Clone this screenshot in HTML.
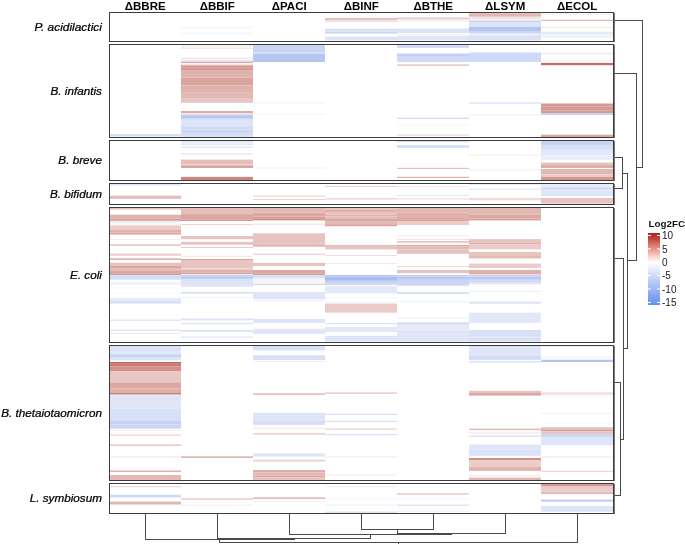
<!DOCTYPE html><html><head><meta charset="utf-8"><style>html,body{margin:0;padding:0;background:#fff;}svg{display:block;} svg{will-change:transform;}</style></head><body><svg width="685" height="544" viewBox="0 0 685 544" shape-rendering="crispEdges">
<rect width="685" height="544" fill="#fff"/>
<rect x="110" y="134.00" width="71" height="2.50" fill="#d7e0f6" shape-rendering="auto"/>
<rect x="110" y="184.00" width="71" height="1.60" fill="#dee5f7" shape-rendering="auto"/>
<rect x="110" y="195.70" width="71" height="3.20" fill="#e5bcb7" shape-rendering="auto"/>
<rect x="110" y="208.00" width="71" height="1.60" fill="#e8c4c0" shape-rendering="auto"/>
<rect x="110" y="214.70" width="71" height="4.10" fill="#e0b4ae" shape-rendering="auto"/>
<rect x="110" y="218.80" width="71" height="2.00" fill="#d8a09a" shape-rendering="auto"/>
<rect x="110" y="220.80" width="71" height="1.10" fill="#f0dcd8" shape-rendering="auto"/>
<rect x="110" y="221.90" width="71" height="3.50" fill="#f5f7fd" shape-rendering="auto"/>
<rect x="110" y="225.40" width="71" height="4.60" fill="#ecccc8" shape-rendering="auto"/>
<rect x="110" y="230.00" width="71" height="2.50" fill="#e0b2ac" shape-rendering="auto"/>
<rect x="110" y="232.50" width="71" height="2.10" fill="#dca8a2" shape-rendering="auto"/>
<rect x="110" y="238.70" width="71" height="1.00" fill="#f6e8e6" shape-rendering="auto"/>
<rect x="110" y="244.30" width="71" height="1.60" fill="#e8c4c0" shape-rendering="auto"/>
<rect x="110" y="253.60" width="71" height="2.10" fill="#ecccc8" shape-rendering="auto"/>
<rect x="110" y="258.20" width="71" height="1.80" fill="#e4b8b2" shape-rendering="auto"/>
<rect x="110" y="262.80" width="71" height="2.60" fill="#e8c4c0" shape-rendering="auto"/>
<rect x="110" y="265.40" width="71" height="2.60" fill="#dca8a2" shape-rendering="auto"/>
<rect x="110" y="268.00" width="71" height="3.00" fill="#e4bcb8" shape-rendering="auto"/>
<rect x="110" y="271.00" width="71" height="2.50" fill="#dca6a0" shape-rendering="auto"/>
<rect x="110" y="273.50" width="71" height="1.30" fill="#cc7c74" shape-rendering="auto"/>
<rect x="110" y="274.80" width="71" height="4.90" fill="#d4ddf6" shape-rendering="auto"/>
<rect x="110" y="281.70" width="71" height="3.10" fill="#f0f3fc" shape-rendering="auto"/>
<rect x="110" y="292.80" width="71" height="1.00" fill="#f6f7fd" shape-rendering="auto"/>
<rect x="110" y="297.80" width="71" height="2.60" fill="#e4eaf8" shape-rendering="auto"/>
<rect x="110" y="300.40" width="71" height="3.20" fill="#d8e0f6" shape-rendering="auto"/>
<rect x="110" y="319.60" width="71" height="1.20" fill="#d8e0f6" shape-rendering="auto"/>
<rect x="110" y="329.80" width="71" height="1.20" fill="#d8e0f6" shape-rendering="auto"/>
<rect x="110" y="332.80" width="71" height="0.90" fill="#f4e0de" shape-rendering="auto"/>
<rect x="110" y="346.00" width="71" height="5.00" fill="#dce3f8" shape-rendering="auto"/>
<rect x="110" y="351.00" width="71" height="3.30" fill="#e2e8f8" shape-rendering="auto"/>
<rect x="110" y="354.30" width="71" height="3.30" fill="#c8d4f4" shape-rendering="auto"/>
<rect x="110" y="357.60" width="71" height="2.80" fill="#dce4f8" shape-rendering="auto"/>
<rect x="110" y="362.00" width="71" height="1.70" fill="#c0605a" shape-rendering="auto"/>
<rect x="110" y="363.70" width="71" height="2.80" fill="#cc7a72" shape-rendering="auto"/>
<rect x="110" y="366.50" width="71" height="4.90" fill="#d49088" shape-rendering="auto"/>
<rect x="110" y="371.40" width="71" height="11.00" fill="#e8c8c4" shape-rendering="auto"/>
<rect x="110" y="382.40" width="71" height="6.10" fill="#dca8a2" shape-rendering="auto"/>
<rect x="110" y="388.50" width="71" height="4.50" fill="#e0b0aa" shape-rendering="auto"/>
<rect x="110" y="393.00" width="71" height="1.60" fill="#cc7c74" shape-rendering="auto"/>
<rect x="110" y="394.60" width="71" height="13.70" fill="#e0e6f8" shape-rendering="auto"/>
<rect x="110" y="408.30" width="71" height="12.20" fill="#d8e0f6" shape-rendering="auto"/>
<rect x="110" y="420.50" width="71" height="4.10" fill="#c4d0f4" shape-rendering="auto"/>
<rect x="110" y="424.60" width="71" height="4.10" fill="#ccd6f4" shape-rendering="auto"/>
<rect x="110" y="430.00" width="71" height="1.00" fill="#f7ebea" shape-rendering="auto"/>
<rect x="110" y="434.50" width="71" height="1.20" fill="#efd0cd" shape-rendering="auto"/>
<rect x="110" y="444.50" width="71" height="1.20" fill="#e5b5ae" shape-rendering="auto"/>
<rect x="110" y="456.50" width="71" height="1.00" fill="#f6e5e3" shape-rendering="auto"/>
<rect x="110" y="470.50" width="71" height="1.30" fill="#dea49d" shape-rendering="auto"/>
<rect x="110" y="475.00" width="71" height="5.00" fill="#e5b8b3" shape-rendering="auto"/>
<rect x="110" y="486.00" width="71" height="1.30" fill="#f2dad7" shape-rendering="auto"/>
<rect x="110" y="494.70" width="71" height="2.70" fill="#cdd7f6" shape-rendering="auto"/>
<rect x="110" y="501.60" width="71" height="2.90" fill="#e1b5b0" shape-rendering="auto"/>
<rect x="181" y="26.70" width="72" height="1.60" fill="#f4f5fc" shape-rendering="auto"/>
<rect x="181" y="32.50" width="72" height="2.10" fill="#f4f5fc" shape-rendering="auto"/>
<rect x="181" y="45.40" width="72" height="1.20" fill="#f7eae8" shape-rendering="auto"/>
<rect x="181" y="47.50" width="72" height="1.50" fill="#f6e5e3" shape-rendering="auto"/>
<rect x="181" y="57.60" width="72" height="1.40" fill="#f6e6e4" shape-rendering="auto"/>
<rect x="181" y="59.70" width="72" height="2.10" fill="#e0e8fa" shape-rendering="auto"/>
<rect x="181" y="61.80" width="72" height="1.30" fill="#d8a8a4" shape-rendering="auto"/>
<rect x="181" y="64.40" width="72" height="1.10" fill="#f0d8d4" shape-rendering="auto"/>
<rect x="181" y="65.50" width="72" height="2.00" fill="#d48c86" shape-rendering="auto"/>
<rect x="181" y="67.50" width="72" height="3.20" fill="#d8988f" shape-rendering="auto"/>
<rect x="181" y="70.70" width="72" height="6.80" fill="#dfb2ac" shape-rendering="auto"/>
<rect x="181" y="77.50" width="72" height="7.90" fill="#d9a49e" shape-rendering="auto"/>
<rect x="181" y="85.40" width="72" height="7.40" fill="#e0b4ae" shape-rendering="auto"/>
<rect x="181" y="92.80" width="72" height="5.20" fill="#e2b9b4" shape-rendering="auto"/>
<rect x="181" y="98.00" width="72" height="4.80" fill="#e8c6c2" shape-rendering="auto"/>
<rect x="181" y="111.00" width="72" height="2.10" fill="#e0aca6" shape-rendering="auto"/>
<rect x="181" y="113.10" width="72" height="1.60" fill="#f0e4e6" shape-rendering="auto"/>
<rect x="181" y="114.70" width="72" height="1.30" fill="#c0cef4" shape-rendering="auto"/>
<rect x="181" y="116.00" width="72" height="2.00" fill="#b4c6f2" shape-rendering="auto"/>
<rect x="181" y="118.00" width="72" height="0.90" fill="#c4d0f4" shape-rendering="auto"/>
<rect x="181" y="118.90" width="72" height="7.40" fill="#dde4f8" shape-rendering="auto"/>
<rect x="181" y="126.30" width="72" height="2.70" fill="#d0daf6" shape-rendering="auto"/>
<rect x="181" y="129.00" width="72" height="1.00" fill="#dae2f8" shape-rendering="auto"/>
<rect x="181" y="130.00" width="72" height="3.00" fill="#ccd7f6" shape-rendering="auto"/>
<rect x="181" y="133.00" width="72" height="1.00" fill="#d8e0f6" shape-rendering="auto"/>
<rect x="181" y="134.00" width="72" height="1.80" fill="#d0daf6" shape-rendering="auto"/>
<rect x="181" y="135.80" width="72" height="1.20" fill="#dce4f8" shape-rendering="auto"/>
<rect x="181" y="141.00" width="72" height="1.20" fill="#dce4f8" shape-rendering="auto"/>
<rect x="181" y="142.20" width="72" height="1.60" fill="#eef1fb" shape-rendering="auto"/>
<rect x="181" y="143.80" width="72" height="1.00" fill="#dce4f8" shape-rendering="auto"/>
<rect x="181" y="146.40" width="72" height="1.60" fill="#e4eaf8" shape-rendering="auto"/>
<rect x="181" y="153.20" width="72" height="1.60" fill="#e4eaf8" shape-rendering="auto"/>
<rect x="181" y="159.60" width="72" height="4.70" fill="#e6beb8" shape-rendering="auto"/>
<rect x="181" y="164.30" width="72" height="1.00" fill="#ecccc8" shape-rendering="auto"/>
<rect x="181" y="165.30" width="72" height="2.70" fill="#dca49e" shape-rendering="auto"/>
<rect x="181" y="176.90" width="72" height="3.10" fill="#cc847c" shape-rendering="auto"/>
<rect x="181" y="208.00" width="72" height="4.90" fill="#e6bfba" shape-rendering="auto"/>
<rect x="181" y="212.90" width="72" height="2.10" fill="#e4b8b2" shape-rendering="auto"/>
<rect x="181" y="215.00" width="72" height="4.70" fill="#dca6a0" shape-rendering="auto"/>
<rect x="181" y="219.70" width="72" height="1.30" fill="#d8968e" shape-rendering="auto"/>
<rect x="181" y="224.00" width="72" height="1.00" fill="#f0d4d0" shape-rendering="auto"/>
<rect x="181" y="236.00" width="72" height="3.20" fill="#e8c4c0" shape-rendering="auto"/>
<rect x="181" y="241.80" width="72" height="2.90" fill="#e8c4c0" shape-rendering="auto"/>
<rect x="181" y="247.00" width="72" height="1.00" fill="#ecccc8" shape-rendering="auto"/>
<rect x="181" y="255.80" width="72" height="1.00" fill="#f4e4e2" shape-rendering="auto"/>
<rect x="181" y="259.00" width="72" height="1.00" fill="#d8a09a" shape-rendering="auto"/>
<rect x="181" y="260.00" width="72" height="8.40" fill="#e8c4c0" shape-rendering="auto"/>
<rect x="181" y="268.40" width="72" height="1.60" fill="#eccfcb" shape-rendering="auto"/>
<rect x="181" y="270.00" width="72" height="2.50" fill="#e0b0aa" shape-rendering="auto"/>
<rect x="181" y="272.50" width="72" height="1.50" fill="#d8a09a" shape-rendering="auto"/>
<rect x="181" y="274.70" width="72" height="1.80" fill="#c4d0f4" shape-rendering="auto"/>
<rect x="181" y="276.50" width="72" height="1.50" fill="#b8c8f2" shape-rendering="auto"/>
<rect x="181" y="278.00" width="72" height="1.00" fill="#c4d0f4" shape-rendering="auto"/>
<rect x="181" y="279.00" width="72" height="4.60" fill="#dce4f8" shape-rendering="auto"/>
<rect x="181" y="283.60" width="72" height="1.10" fill="#ccd6f4" shape-rendering="auto"/>
<rect x="181" y="284.70" width="72" height="2.10" fill="#e0e6f8" shape-rendering="auto"/>
<rect x="181" y="292.00" width="72" height="1.60" fill="#d8e0f6" shape-rendering="auto"/>
<rect x="181" y="297.00" width="72" height="1.00" fill="#f1f3fc" shape-rendering="auto"/>
<rect x="181" y="318.40" width="72" height="1.90" fill="#dfe5f8" shape-rendering="auto"/>
<rect x="181" y="322.90" width="72" height="1.30" fill="#dfe5f8" shape-rendering="auto"/>
<rect x="181" y="330.00" width="72" height="2.00" fill="#dfe5f8" shape-rendering="auto"/>
<rect x="181" y="336.40" width="72" height="1.30" fill="#dfe5f8" shape-rendering="auto"/>
<rect x="181" y="346.50" width="72" height="1.00" fill="#f1f3fc" shape-rendering="auto"/>
<rect x="181" y="456.50" width="72" height="1.20" fill="#d89890" shape-rendering="auto"/>
<rect x="181" y="498.20" width="72" height="1.80" fill="#efd4d0" shape-rendering="auto"/>
<rect x="181" y="504.50" width="72" height="1.50" fill="#f1f3fc" shape-rendering="auto"/>
<rect x="253" y="45.00" width="72" height="7.50" fill="#c8d4f4" shape-rendering="auto"/>
<rect x="253" y="52.50" width="72" height="1.10" fill="#d4dcf6" shape-rendering="auto"/>
<rect x="253" y="53.60" width="72" height="8.40" fill="#b6c6f0" shape-rendering="auto"/>
<rect x="253" y="102.50" width="72" height="1.00" fill="#f1f3fc" shape-rendering="auto"/>
<rect x="253" y="113.50" width="72" height="1.00" fill="#f1f3fc" shape-rendering="auto"/>
<rect x="253" y="167.50" width="72" height="1.00" fill="#f9efed" shape-rendering="auto"/>
<rect x="253" y="195.50" width="72" height="1.20" fill="#efd2cf" shape-rendering="auto"/>
<rect x="253" y="199.00" width="72" height="1.00" fill="#efd2cf" shape-rendering="auto"/>
<rect x="253" y="208.00" width="72" height="4.70" fill="#e4bab4" shape-rendering="auto"/>
<rect x="253" y="212.70" width="72" height="3.90" fill="#dca8a2" shape-rendering="auto"/>
<rect x="253" y="216.60" width="72" height="2.40" fill="#d8a09a" shape-rendering="auto"/>
<rect x="253" y="219.00" width="72" height="1.40" fill="#d4948c" shape-rendering="auto"/>
<rect x="253" y="223.70" width="72" height="0.80" fill="#f0d4d0" shape-rendering="auto"/>
<rect x="253" y="233.30" width="72" height="10.30" fill="#e8c4c0" shape-rendering="auto"/>
<rect x="253" y="243.60" width="72" height="3.20" fill="#e4bab4" shape-rendering="auto"/>
<rect x="253" y="253.60" width="72" height="1.40" fill="#f0d4d0" shape-rendering="auto"/>
<rect x="253" y="262.90" width="72" height="3.20" fill="#e8c4c0" shape-rendering="auto"/>
<rect x="253" y="270.00" width="72" height="3.50" fill="#dca8a2" shape-rendering="auto"/>
<rect x="253" y="273.50" width="72" height="1.30" fill="#d08880" shape-rendering="auto"/>
<rect x="253" y="275.00" width="72" height="3.50" fill="#d8e0f6" shape-rendering="auto"/>
<rect x="253" y="278.50" width="72" height="5.20" fill="#f7f5fb" shape-rendering="auto"/>
<rect x="253" y="283.70" width="72" height="1.30" fill="#d0daf6" shape-rendering="auto"/>
<rect x="253" y="292.00" width="72" height="7.00" fill="#dfe5f8" shape-rendering="auto"/>
<rect x="253" y="299.00" width="72" height="3.00" fill="#f4f6fd" shape-rendering="auto"/>
<rect x="253" y="319.00" width="72" height="4.00" fill="#dfe5f8" shape-rendering="auto"/>
<rect x="253" y="328.70" width="72" height="0.90" fill="#f4e0de" shape-rendering="auto"/>
<rect x="253" y="329.60" width="72" height="4.20" fill="#dfe5f8" shape-rendering="auto"/>
<rect x="253" y="346.00" width="72" height="4.40" fill="#dae1f7" shape-rendering="auto"/>
<rect x="253" y="355.20" width="72" height="4.80" fill="#d7e0f7" shape-rendering="auto"/>
<rect x="253" y="361.00" width="72" height="1.00" fill="#f7ebea" shape-rendering="auto"/>
<rect x="253" y="393.50" width="72" height="1.20" fill="#dea49d" shape-rendering="auto"/>
<rect x="253" y="412.80" width="72" height="8.30" fill="#dfe5f8" shape-rendering="auto"/>
<rect x="253" y="421.10" width="72" height="3.80" fill="#d4dcf6" shape-rendering="auto"/>
<rect x="253" y="427.10" width="72" height="2.30" fill="#faf2f0" shape-rendering="auto"/>
<rect x="253" y="432.90" width="72" height="1.80" fill="#f0d4d0" shape-rendering="auto"/>
<rect x="253" y="453.50" width="72" height="3.00" fill="#dce4f8" shape-rendering="auto"/>
<rect x="253" y="459.50" width="72" height="2.30" fill="#f0d8d4" shape-rendering="auto"/>
<rect x="253" y="470.10" width="72" height="2.30" fill="#dca8a2" shape-rendering="auto"/>
<rect x="253" y="472.40" width="72" height="3.00" fill="#e4bab4" shape-rendering="auto"/>
<rect x="253" y="475.40" width="72" height="2.20" fill="#dcaaa4" shape-rendering="auto"/>
<rect x="253" y="477.60" width="72" height="2.40" fill="#e8c4c0" shape-rendering="auto"/>
<rect x="253" y="497.40" width="72" height="1.60" fill="#e5b8b3" shape-rendering="auto"/>
<rect x="253" y="501.00" width="72" height="1.00" fill="#f1f3fc" shape-rendering="auto"/>
<rect x="325" y="17.90" width="72" height="2.50" fill="#e8c0ba" shape-rendering="auto"/>
<rect x="325" y="20.90" width="72" height="1.30" fill="#dce4f8" shape-rendering="auto"/>
<rect x="325" y="28.80" width="72" height="1.70" fill="#d0daf6" shape-rendering="auto"/>
<rect x="325" y="30.50" width="72" height="1.00" fill="#dce4f8" shape-rendering="auto"/>
<rect x="325" y="31.50" width="72" height="2.10" fill="#ccd6f4" shape-rendering="auto"/>
<rect x="325" y="36.70" width="72" height="3.70" fill="#dde4f8" shape-rendering="auto"/>
<rect x="325" y="185.80" width="72" height="1.20" fill="#efd2cf" shape-rendering="auto"/>
<rect x="325" y="198.20" width="72" height="1.30" fill="#efd2cf" shape-rendering="auto"/>
<rect x="325" y="208.00" width="72" height="2.00" fill="#e8c4c0" shape-rendering="auto"/>
<rect x="325" y="210.00" width="72" height="2.00" fill="#e0b0aa" shape-rendering="auto"/>
<rect x="325" y="212.00" width="72" height="2.50" fill="#e8c4c0" shape-rendering="auto"/>
<rect x="325" y="214.50" width="72" height="2.00" fill="#e0b0aa" shape-rendering="auto"/>
<rect x="325" y="216.50" width="72" height="2.50" fill="#e6bcb6" shape-rendering="auto"/>
<rect x="325" y="219.00" width="72" height="2.10" fill="#dcaaa4" shape-rendering="auto"/>
<rect x="325" y="221.10" width="72" height="3.20" fill="#e4bab4" shape-rendering="auto"/>
<rect x="325" y="224.30" width="72" height="1.90" fill="#d8a09a" shape-rendering="auto"/>
<rect x="325" y="244.90" width="72" height="4.50" fill="#e8c4c0" shape-rendering="auto"/>
<rect x="325" y="255.00" width="72" height="0.80" fill="#f0d4d0" shape-rendering="auto"/>
<rect x="325" y="263.00" width="72" height="1.00" fill="#f6e6e4" shape-rendering="auto"/>
<rect x="325" y="275.00" width="72" height="1.50" fill="#b8c8f2" shape-rendering="auto"/>
<rect x="325" y="276.50" width="72" height="3.50" fill="#a8bcee" shape-rendering="auto"/>
<rect x="325" y="280.00" width="72" height="1.00" fill="#b8c8f2" shape-rendering="auto"/>
<rect x="325" y="281.00" width="72" height="2.00" fill="#c4d0f4" shape-rendering="auto"/>
<rect x="325" y="283.00" width="72" height="2.00" fill="#d0daf6" shape-rendering="auto"/>
<rect x="325" y="286.20" width="72" height="7.10" fill="#e2e8f8" shape-rendering="auto"/>
<rect x="325" y="297.30" width="72" height="1.00" fill="#f0f3fc" shape-rendering="auto"/>
<rect x="325" y="301.70" width="72" height="1.90" fill="#f4f6fd" shape-rendering="auto"/>
<rect x="325" y="303.60" width="72" height="9.00" fill="#ecccc8" shape-rendering="auto"/>
<rect x="325" y="323.00" width="72" height="1.20" fill="#dce4f8" shape-rendering="auto"/>
<rect x="325" y="326.80" width="72" height="5.20" fill="#e2e8f8" shape-rendering="auto"/>
<rect x="325" y="335.80" width="72" height="5.80" fill="#dfe5f8" shape-rendering="auto"/>
<rect x="325" y="392.50" width="72" height="1.20" fill="#e8bcb7" shape-rendering="auto"/>
<rect x="325" y="413.80" width="72" height="1.20" fill="#dae1f7" shape-rendering="auto"/>
<rect x="325" y="420.80" width="72" height="1.20" fill="#dae1f7" shape-rendering="auto"/>
<rect x="325" y="428.50" width="72" height="1.20" fill="#efd0cd" shape-rendering="auto"/>
<rect x="325" y="434.00" width="72" height="1.20" fill="#d7e0f7" shape-rendering="auto"/>
<rect x="325" y="456.50" width="72" height="1.00" fill="#f7e8e6" shape-rendering="auto"/>
<rect x="325" y="474.50" width="72" height="1.00" fill="#f7e8e6" shape-rendering="auto"/>
<rect x="325" y="486.00" width="72" height="1.00" fill="#f7ebea" shape-rendering="auto"/>
<rect x="325" y="498.50" width="72" height="1.00" fill="#f1f3fc" shape-rendering="auto"/>
<rect x="325" y="504.50" width="72" height="1.00" fill="#f1f3fc" shape-rendering="auto"/>
<rect x="325" y="511.50" width="72" height="1.50" fill="#dee5f7" shape-rendering="auto"/>
<rect x="397" y="17.40" width="72" height="2.10" fill="#edcdc8" shape-rendering="auto"/>
<rect x="397" y="20.50" width="72" height="1.00" fill="#e8ecf9" shape-rendering="auto"/>
<rect x="397" y="28.50" width="72" height="4.50" fill="#dce3f6" shape-rendering="auto"/>
<rect x="397" y="34.00" width="72" height="1.50" fill="#f1f3fc" shape-rendering="auto"/>
<rect x="397" y="36.00" width="72" height="4.50" fill="#e1e6f7" shape-rendering="auto"/>
<rect x="397" y="45.00" width="72" height="3.00" fill="#d0daf6" shape-rendering="auto"/>
<rect x="397" y="53.60" width="72" height="2.40" fill="#c3d0f4" shape-rendering="auto"/>
<rect x="397" y="56.00" width="72" height="6.00" fill="#d0daf6" shape-rendering="auto"/>
<rect x="397" y="64.50" width="72" height="1.20" fill="#e5b5ae" shape-rendering="auto"/>
<rect x="397" y="117.70" width="72" height="1.30" fill="#d0daf6" shape-rendering="auto"/>
<rect x="397" y="124.50" width="72" height="1.00" fill="#f1f3fc" shape-rendering="auto"/>
<rect x="397" y="134.50" width="72" height="1.20" fill="#f2d7d4" shape-rendering="auto"/>
<rect x="397" y="141.00" width="72" height="1.20" fill="#d7e0f6" shape-rendering="auto"/>
<rect x="397" y="145.00" width="72" height="3.00" fill="#d7e0f6" shape-rendering="auto"/>
<rect x="397" y="167.80" width="72" height="1.20" fill="#e8bfba" shape-rendering="auto"/>
<rect x="397" y="176.80" width="72" height="1.20" fill="#e1b2ad" shape-rendering="auto"/>
<rect x="397" y="186.00" width="72" height="1.00" fill="#f7ebea" shape-rendering="auto"/>
<rect x="397" y="194.80" width="72" height="1.20" fill="#e1e8f9" shape-rendering="auto"/>
<rect x="397" y="198.50" width="72" height="1.00" fill="#f2dad7" shape-rendering="auto"/>
<rect x="397" y="208.00" width="72" height="4.70" fill="#e4b8b2" shape-rendering="auto"/>
<rect x="397" y="212.70" width="72" height="4.50" fill="#e0b0aa" shape-rendering="auto"/>
<rect x="397" y="217.20" width="72" height="2.60" fill="#dca69f" shape-rendering="auto"/>
<rect x="397" y="219.80" width="72" height="1.30" fill="#d8a09a" shape-rendering="auto"/>
<rect x="397" y="221.10" width="72" height="3.90" fill="#ecccc8" shape-rendering="auto"/>
<rect x="397" y="235.00" width="72" height="0.80" fill="#f8eeec" shape-rendering="auto"/>
<rect x="397" y="239.10" width="72" height="0.90" fill="#f4e0de" shape-rendering="auto"/>
<rect x="397" y="241.00" width="72" height="2.00" fill="#ecccc8" shape-rendering="auto"/>
<rect x="397" y="244.90" width="72" height="1.30" fill="#dcaaa4" shape-rendering="auto"/>
<rect x="397" y="246.20" width="72" height="3.20" fill="#e4bab4" shape-rendering="auto"/>
<rect x="397" y="249.40" width="72" height="4.50" fill="#e8c4c0" shape-rendering="auto"/>
<rect x="397" y="266.10" width="72" height="0.90" fill="#f0d4d0" shape-rendering="auto"/>
<rect x="397" y="270.00" width="72" height="3.20" fill="#e8c4c0" shape-rendering="auto"/>
<rect x="397" y="275.00" width="72" height="1.50" fill="#c4d0f4" shape-rendering="auto"/>
<rect x="397" y="276.50" width="72" height="3.30" fill="#b8c8f2" shape-rendering="auto"/>
<rect x="397" y="279.80" width="72" height="5.20" fill="#ccd6f4" shape-rendering="auto"/>
<rect x="397" y="285.00" width="72" height="1.20" fill="#dce4f8" shape-rendering="auto"/>
<rect x="397" y="292.00" width="72" height="2.00" fill="#d8e0f6" shape-rendering="auto"/>
<rect x="397" y="301.20" width="72" height="1.00" fill="#eef1fb" shape-rendering="auto"/>
<rect x="397" y="317.80" width="72" height="1.20" fill="#f0f3fc" shape-rendering="auto"/>
<rect x="397" y="322.30" width="72" height="2.50" fill="#d4dcf6" shape-rendering="auto"/>
<rect x="397" y="324.80" width="72" height="5.80" fill="#e4e9f8" shape-rendering="auto"/>
<rect x="397" y="330.60" width="72" height="2.60" fill="#dce3f8" shape-rendering="auto"/>
<rect x="397" y="333.20" width="72" height="8.40" fill="#e0e6f8" shape-rendering="auto"/>
<rect x="397" y="493.20" width="72" height="1.50" fill="#ebc9c6" shape-rendering="auto"/>
<rect x="397" y="498.50" width="72" height="1.00" fill="#f1f3fc" shape-rendering="auto"/>
<rect x="397" y="504.50" width="72" height="1.50" fill="#dee5f7" shape-rendering="auto"/>
<rect x="397" y="511.00" width="72" height="1.00" fill="#f1f3fc" shape-rendering="auto"/>
<rect x="469" y="13.00" width="72" height="0.50" fill="#d8a09a" shape-rendering="auto"/>
<rect x="469" y="13.50" width="72" height="3.30" fill="#e4b8b2" shape-rendering="auto"/>
<rect x="469" y="16.80" width="72" height="2.70" fill="#f4e4e2" shape-rendering="auto"/>
<rect x="469" y="20.50" width="72" height="2.10" fill="#c8d4f4" shape-rendering="auto"/>
<rect x="469" y="22.60" width="72" height="4.20" fill="#dce4f8" shape-rendering="auto"/>
<rect x="469" y="26.80" width="72" height="4.80" fill="#b4c4f0" shape-rendering="auto"/>
<rect x="469" y="31.60" width="72" height="2.10" fill="#ccd6f4" shape-rendering="auto"/>
<rect x="469" y="33.70" width="72" height="1.50" fill="#f0f3fc" shape-rendering="auto"/>
<rect x="469" y="35.20" width="72" height="5.30" fill="#dae2f8" shape-rendering="auto"/>
<rect x="469" y="52.50" width="72" height="9.50" fill="#cdd9f6" shape-rendering="auto"/>
<rect x="469" y="102.50" width="72" height="1.20" fill="#d7e0f6" shape-rendering="auto"/>
<rect x="469" y="114.50" width="72" height="1.00" fill="#f7ebea" shape-rendering="auto"/>
<rect x="469" y="154.50" width="72" height="1.00" fill="#f7ebea" shape-rendering="auto"/>
<rect x="469" y="169.50" width="72" height="1.00" fill="#f7ebea" shape-rendering="auto"/>
<rect x="469" y="184.00" width="72" height="1.00" fill="#e8ecf9" shape-rendering="auto"/>
<rect x="469" y="188.50" width="72" height="1.20" fill="#e1e8f9" shape-rendering="auto"/>
<rect x="469" y="197.80" width="72" height="2.50" fill="#f2dad7" shape-rendering="auto"/>
<rect x="469" y="208.00" width="72" height="6.70" fill="#e4b8b2" shape-rendering="auto"/>
<rect x="469" y="214.70" width="72" height="3.80" fill="#dca8a2" shape-rendering="auto"/>
<rect x="469" y="218.50" width="72" height="1.90" fill="#d8a09a" shape-rendering="auto"/>
<rect x="469" y="239.10" width="72" height="3.90" fill="#e8c4c0" shape-rendering="auto"/>
<rect x="469" y="243.00" width="72" height="1.30" fill="#e0b0aa" shape-rendering="auto"/>
<rect x="469" y="244.30" width="72" height="5.10" fill="#ecccc8" shape-rendering="auto"/>
<rect x="469" y="252.00" width="72" height="3.20" fill="#e8c4c0" shape-rendering="auto"/>
<rect x="469" y="255.20" width="72" height="3.20" fill="#e4bab4" shape-rendering="auto"/>
<rect x="469" y="263.60" width="72" height="4.40" fill="#ecccc8" shape-rendering="auto"/>
<rect x="469" y="270.00" width="72" height="4.00" fill="#e0b0aa" shape-rendering="auto"/>
<rect x="469" y="274.00" width="72" height="0.80" fill="#f0d0c8" shape-rendering="auto"/>
<rect x="469" y="275.00" width="72" height="1.50" fill="#c8d4f4" shape-rendering="auto"/>
<rect x="469" y="276.50" width="72" height="3.30" fill="#bccaf2" shape-rendering="auto"/>
<rect x="469" y="279.80" width="72" height="1.20" fill="#d4dcf6" shape-rendering="auto"/>
<rect x="469" y="281.00" width="72" height="1.60" fill="#ccd6f4" shape-rendering="auto"/>
<rect x="469" y="282.60" width="72" height="1.70" fill="#dce4f8" shape-rendering="auto"/>
<rect x="469" y="290.70" width="72" height="1.10" fill="#eef1fb" shape-rendering="auto"/>
<rect x="469" y="301.70" width="72" height="1.90" fill="#d8e0f6" shape-rendering="auto"/>
<rect x="469" y="312.60" width="72" height="10.30" fill="#e2e8f8" shape-rendering="auto"/>
<rect x="469" y="330.00" width="72" height="6.00" fill="#d8e0f6" shape-rendering="auto"/>
<rect x="469" y="336.00" width="72" height="2.00" fill="#e0e6f8" shape-rendering="auto"/>
<rect x="469" y="338.00" width="72" height="3.60" fill="#d8e0f6" shape-rendering="auto"/>
<rect x="469" y="346.00" width="72" height="1.20" fill="#d4dcf6" shape-rendering="auto"/>
<rect x="469" y="347.20" width="72" height="7.40" fill="#e0e6f8" shape-rendering="auto"/>
<rect x="469" y="354.60" width="72" height="1.50" fill="#d8e0f6" shape-rendering="auto"/>
<rect x="469" y="356.10" width="72" height="3.70" fill="#d0daf6" shape-rendering="auto"/>
<rect x="469" y="360.90" width="72" height="1.60" fill="#dce4f8" shape-rendering="auto"/>
<rect x="469" y="390.80" width="72" height="1.60" fill="#e8c4c0" shape-rendering="auto"/>
<rect x="469" y="392.40" width="72" height="3.20" fill="#dca8a2" shape-rendering="auto"/>
<rect x="469" y="428.60" width="72" height="1.50" fill="#e4b8b2" shape-rendering="auto"/>
<rect x="469" y="432.40" width="72" height="1.10" fill="#f6e6e4" shape-rendering="auto"/>
<rect x="469" y="435.40" width="72" height="1.50" fill="#dce4f8" shape-rendering="auto"/>
<rect x="469" y="444.50" width="72" height="5.20" fill="#e0e6f8" shape-rendering="auto"/>
<rect x="469" y="449.70" width="72" height="6.10" fill="#dae1f8" shape-rendering="auto"/>
<rect x="469" y="458.00" width="72" height="2.30" fill="#d49088" shape-rendering="auto"/>
<rect x="469" y="460.30" width="72" height="6.80" fill="#ecccc8" shape-rendering="auto"/>
<rect x="469" y="467.10" width="72" height="3.70" fill="#e0b0aa" shape-rendering="auto"/>
<rect x="469" y="475.20" width="72" height="1.00" fill="#f6e6e4" shape-rendering="auto"/>
<rect x="469" y="477.60" width="72" height="2.40" fill="#e4b8b2" shape-rendering="auto"/>
<rect x="541" y="13.70" width="72" height="1.00" fill="#f7ebea" shape-rendering="auto"/>
<rect x="541" y="19.80" width="72" height="1.20" fill="#e5b5ae" shape-rendering="auto"/>
<rect x="541" y="27.00" width="72" height="1.00" fill="#f7ebea" shape-rendering="auto"/>
<rect x="541" y="31.70" width="72" height="2.80" fill="#e5eaf9" shape-rendering="auto"/>
<rect x="541" y="35.00" width="72" height="3.00" fill="#f1f3fc" shape-rendering="auto"/>
<rect x="541" y="52.70" width="72" height="1.80" fill="#f7ebea" shape-rendering="auto"/>
<rect x="541" y="59.50" width="72" height="1.00" fill="#f1f3fc" shape-rendering="auto"/>
<rect x="541" y="62.90" width="72" height="2.30" fill="#c96c65" shape-rendering="auto"/>
<rect x="541" y="103.50" width="72" height="2.50" fill="#d79a93" shape-rendering="auto"/>
<rect x="541" y="106.00" width="72" height="1.00" fill="#e1aea7" shape-rendering="auto"/>
<rect x="541" y="107.00" width="72" height="3.00" fill="#d79a93" shape-rendering="auto"/>
<rect x="541" y="110.00" width="72" height="1.00" fill="#e1aea7" shape-rendering="auto"/>
<rect x="541" y="111.00" width="72" height="2.30" fill="#d79a93" shape-rendering="auto"/>
<rect x="541" y="113.30" width="72" height="1.70" fill="#c3d0f2" shape-rendering="auto"/>
<rect x="541" y="134.70" width="72" height="2.30" fill="#d7a7a1" shape-rendering="auto"/>
<rect x="541" y="141.00" width="72" height="3.90" fill="#c6d2f4" shape-rendering="auto"/>
<rect x="541" y="144.90" width="72" height="3.30" fill="#d7e0f7" shape-rendering="auto"/>
<rect x="541" y="148.20" width="72" height="1.20" fill="#cdd7f6" shape-rendering="auto"/>
<rect x="541" y="149.40" width="72" height="1.20" fill="#d7e0f7" shape-rendering="auto"/>
<rect x="541" y="150.60" width="72" height="4.40" fill="#e1e8f9" shape-rendering="auto"/>
<rect x="541" y="155.00" width="72" height="5.00" fill="#ebeffb" shape-rendering="auto"/>
<rect x="541" y="162.50" width="72" height="2.50" fill="#e8c3be" shape-rendering="auto"/>
<rect x="541" y="165.00" width="72" height="3.00" fill="#deaea9" shape-rendering="auto"/>
<rect x="541" y="169.00" width="72" height="5.40" fill="#e1b7b2" shape-rendering="auto"/>
<rect x="541" y="174.40" width="72" height="2.60" fill="#ebc9c6" shape-rendering="auto"/>
<rect x="541" y="177.00" width="72" height="3.00" fill="#d49690" shape-rendering="auto"/>
<rect x="541" y="184.00" width="72" height="3.30" fill="#e8edf9" shape-rendering="auto"/>
<rect x="541" y="187.30" width="72" height="2.30" fill="#cdd7f6" shape-rendering="auto"/>
<rect x="541" y="189.60" width="72" height="0.80" fill="#dae1f7" shape-rendering="auto"/>
<rect x="541" y="190.40" width="72" height="5.60" fill="#dee5f7" shape-rendering="auto"/>
<rect x="541" y="198.00" width="72" height="5.60" fill="#e8c3bf" shape-rendering="auto"/>
<rect x="541" y="346.00" width="72" height="0.60" fill="#f7ebea" shape-rendering="auto"/>
<rect x="541" y="356.50" width="72" height="1.30" fill="#f1f3fc" shape-rendering="auto"/>
<rect x="541" y="359.70" width="72" height="2.30" fill="#b5c6f1" shape-rendering="auto"/>
<rect x="541" y="392.50" width="72" height="2.00" fill="#f2d7d4" shape-rendering="auto"/>
<rect x="541" y="395.50" width="72" height="1.00" fill="#f1f3fc" shape-rendering="auto"/>
<rect x="541" y="412.80" width="72" height="1.10" fill="#f0f3fc" shape-rendering="auto"/>
<rect x="541" y="422.60" width="72" height="1.50" fill="#f8f9fe" shape-rendering="auto"/>
<rect x="541" y="427.10" width="72" height="2.30" fill="#e8c4c0" shape-rendering="auto"/>
<rect x="541" y="429.40" width="72" height="2.00" fill="#d8a09a" shape-rendering="auto"/>
<rect x="541" y="431.40" width="72" height="2.50" fill="#e8c4c0" shape-rendering="auto"/>
<rect x="541" y="433.90" width="72" height="3.00" fill="#ccd6f4" shape-rendering="auto"/>
<rect x="541" y="436.90" width="72" height="8.30" fill="#dfe5f8" shape-rendering="auto"/>
<rect x="541" y="456.50" width="72" height="1.10" fill="#f6e6e4" shape-rendering="auto"/>
<rect x="541" y="470.80" width="72" height="1.20" fill="#f0d4d0" shape-rendering="auto"/>
<rect x="541" y="484.00" width="72" height="2.60" fill="#d79a93" shape-rendering="auto"/>
<rect x="541" y="486.60" width="72" height="5.10" fill="#ebcdc9" shape-rendering="auto"/>
<rect x="541" y="491.70" width="72" height="2.50" fill="#e5bcb7" shape-rendering="auto"/>
<rect x="541" y="499.60" width="72" height="2.10" fill="#bfcdf2" shape-rendering="auto"/>
<rect x="541" y="505.90" width="72" height="5.90" fill="#dee5f7" shape-rendering="auto"/>
<rect x="109.5" y="12.5" width="504" height="29" fill="none" stroke="#3c3c3c" stroke-width="1"/>
<line x1="614.5" y1="12.5" x2="614.5" y2="41.5" stroke="#777" stroke-width="1"/>
<rect x="109.5" y="44.5" width="504" height="93" fill="none" stroke="#3c3c3c" stroke-width="1"/>
<line x1="614.5" y1="44.5" x2="614.5" y2="137.5" stroke="#777" stroke-width="1"/>
<rect x="109.5" y="140.5" width="504" height="40" fill="none" stroke="#3c3c3c" stroke-width="1"/>
<line x1="614.5" y1="140.5" x2="614.5" y2="180.5" stroke="#777" stroke-width="1"/>
<rect x="109.5" y="183.5" width="504" height="21" fill="none" stroke="#3c3c3c" stroke-width="1"/>
<line x1="614.5" y1="183.5" x2="614.5" y2="204.5" stroke="#777" stroke-width="1"/>
<rect x="109.5" y="207.5" width="504" height="135" fill="none" stroke="#3c3c3c" stroke-width="1"/>
<line x1="614.5" y1="207.5" x2="614.5" y2="342.5" stroke="#777" stroke-width="1"/>
<rect x="109.5" y="345.5" width="504" height="135" fill="none" stroke="#3c3c3c" stroke-width="1"/>
<line x1="614.5" y1="345.5" x2="614.5" y2="480.5" stroke="#777" stroke-width="1"/>
<rect x="109.5" y="483.5" width="504" height="30" fill="none" stroke="#3c3c3c" stroke-width="1"/>
<line x1="614.5" y1="483.5" x2="614.5" y2="513.5" stroke="#777" stroke-width="1"/>
<text transform="translate(145.2,9.5) scale(1.0,1)" text-anchor="middle" font-family="Liberation Sans" font-weight="bold" font-size="11.5" fill="#000">ΔBBRE</text>
<text transform="translate(217.2,9.5) scale(1.0,1)" text-anchor="middle" font-family="Liberation Sans" font-weight="bold" font-size="11.5" fill="#000">ΔBBIF</text>
<text transform="translate(289.2,9.5) scale(1.0,1)" text-anchor="middle" font-family="Liberation Sans" font-weight="bold" font-size="11.5" fill="#000">ΔPACI</text>
<text transform="translate(361.2,9.5) scale(1.0,1)" text-anchor="middle" font-family="Liberation Sans" font-weight="bold" font-size="11.5" fill="#000">ΔBINF</text>
<text transform="translate(433.2,9.5) scale(1.0,1)" text-anchor="middle" font-family="Liberation Sans" font-weight="bold" font-size="11.5" fill="#000">ΔBTHE</text>
<text transform="translate(505.2,9.5) scale(1.0,1)" text-anchor="middle" font-family="Liberation Sans" font-weight="bold" font-size="11.5" fill="#000">ΔLSYM</text>
<text transform="translate(577.2,9.5) scale(1.0,1)" text-anchor="middle" font-family="Liberation Sans" font-weight="bold" font-size="11.5" fill="#000">ΔECOL</text>
<text transform="translate(101.9,30.6) scale(1.075,1)" text-anchor="end" font-family="Liberation Sans" font-style="italic" font-size="11.1" fill="#000" stroke="#000" stroke-width="0.25">P. acidilactici</text>
<text transform="translate(101.9,94.6) scale(1.055,1)" text-anchor="end" font-family="Liberation Sans" font-style="italic" font-size="11.1" fill="#000" stroke="#000" stroke-width="0.25">B. infantis</text>
<text transform="translate(101.9,164.1) scale(1.055,1)" text-anchor="end" font-family="Liberation Sans" font-style="italic" font-size="11.1" fill="#000" stroke="#000" stroke-width="0.25">B. breve</text>
<text transform="translate(101.9,197.6) scale(1.055,1)" text-anchor="end" font-family="Liberation Sans" font-style="italic" font-size="11.1" fill="#000" stroke="#000" stroke-width="0.25">B. bifidum</text>
<text transform="translate(101.9,278.6) scale(1.055,1)" text-anchor="end" font-family="Liberation Sans" font-style="italic" font-size="11.1" fill="#000" stroke="#000" stroke-width="0.25">E. coli</text>
<text transform="translate(101.9,416.6) scale(1.055,1)" text-anchor="end" font-family="Liberation Sans" font-style="italic" font-size="11.1" fill="#000" stroke="#000" stroke-width="0.25">B. thetaiotaomicron</text>
<text transform="translate(101.9,502.1) scale(1.055,1)" text-anchor="end" font-family="Liberation Sans" font-style="italic" font-size="11.1" fill="#000" stroke="#000" stroke-width="0.25">L. symbiosum</text>
<line x1="615" y1="157.5" x2="622.5" y2="157.5" stroke="#4a4a4a" stroke-width="1"/>
<line x1="615" y1="188.5" x2="622.5" y2="188.5" stroke="#4a4a4a" stroke-width="1"/>
<line x1="622.5" y1="157.5" x2="622.5" y2="188.5" stroke="#4a4a4a" stroke-width="1"/>
<line x1="615" y1="382.5" x2="620.5" y2="382.5" stroke="#4a4a4a" stroke-width="1"/>
<line x1="615" y1="495.5" x2="620.5" y2="495.5" stroke="#4a4a4a" stroke-width="1"/>
<line x1="620.5" y1="382.5" x2="620.5" y2="495.5" stroke="#4a4a4a" stroke-width="1"/>
<line x1="615" y1="258.5" x2="623.5" y2="258.5" stroke="#4a4a4a" stroke-width="1"/>
<line x1="620.5" y1="439.0" x2="623.5" y2="439.0" stroke="#4a4a4a" stroke-width="1"/>
<line x1="623.5" y1="258.5" x2="623.5" y2="439.0" stroke="#4a4a4a" stroke-width="1"/>
<line x1="622.5" y1="173.0" x2="627.5" y2="173.0" stroke="#4a4a4a" stroke-width="1"/>
<line x1="623.5" y1="348.75" x2="627.5" y2="348.75" stroke="#4a4a4a" stroke-width="1"/>
<line x1="627.5" y1="173.0" x2="627.5" y2="348.75" stroke="#4a4a4a" stroke-width="1"/>
<line x1="615" y1="73.5" x2="636.5" y2="73.5" stroke="#4a4a4a" stroke-width="1"/>
<line x1="627.5" y1="260.875" x2="636.5" y2="260.875" stroke="#4a4a4a" stroke-width="1"/>
<line x1="636.5" y1="73.5" x2="636.5" y2="260.875" stroke="#4a4a4a" stroke-width="1"/>
<line x1="615" y1="20.5" x2="642.5" y2="20.5" stroke="#4a4a4a" stroke-width="1"/>
<line x1="636.5" y1="167.1875" x2="642.5" y2="167.1875" stroke="#4a4a4a" stroke-width="1"/>
<line x1="642.5" y1="20.5" x2="642.5" y2="167.1875" stroke="#4a4a4a" stroke-width="1"/>
<line x1="361.5" y1="514" x2="361.5" y2="529.5" stroke="#4a4a4a" stroke-width="1"/>
<line x1="433.5" y1="514" x2="433.5" y2="529.5" stroke="#4a4a4a" stroke-width="1"/>
<line x1="361.5" y1="529.5" x2="433.5" y2="529.5" stroke="#4a4a4a" stroke-width="1"/>
<line x1="397.5" y1="529.5" x2="397.5" y2="533.5" stroke="#4a4a4a" stroke-width="1"/>
<line x1="505.5" y1="514" x2="505.5" y2="533.5" stroke="#4a4a4a" stroke-width="1"/>
<line x1="397.5" y1="533.5" x2="505.5" y2="533.5" stroke="#4a4a4a" stroke-width="1"/>
<line x1="289.5" y1="514" x2="289.5" y2="534.5" stroke="#4a4a4a" stroke-width="1"/>
<line x1="451.5" y1="533.5" x2="451.5" y2="534.5" stroke="#4a4a4a" stroke-width="1"/>
<line x1="289.5" y1="534.5" x2="451.5" y2="534.5" stroke="#4a4a4a" stroke-width="1"/>
<line x1="217.5" y1="514" x2="217.5" y2="538.5" stroke="#4a4a4a" stroke-width="1"/>
<line x1="370.5" y1="534.5" x2="370.5" y2="538.5" stroke="#4a4a4a" stroke-width="1"/>
<line x1="217.5" y1="538.5" x2="370.5" y2="538.5" stroke="#4a4a4a" stroke-width="1"/>
<line x1="145.5" y1="514" x2="145.5" y2="539.5" stroke="#4a4a4a" stroke-width="1"/>
<line x1="294.0" y1="538.5" x2="294.0" y2="539.5" stroke="#4a4a4a" stroke-width="1"/>
<line x1="145.5" y1="539.5" x2="294.0" y2="539.5" stroke="#4a4a4a" stroke-width="1"/>
<line x1="219.75" y1="539.5" x2="219.75" y2="542.5" stroke="#4a4a4a" stroke-width="1"/>
<line x1="577.5" y1="514" x2="577.5" y2="542.5" stroke="#4a4a4a" stroke-width="1"/>
<line x1="219.75" y1="542.5" x2="577.5" y2="542.5" stroke="#4a4a4a" stroke-width="1"/>
<line x1="398.625" y1="542.5" x2="398.625" y2="545" stroke="#4a4a4a" stroke-width="1"/>
<defs><linearGradient id="lg" x1="0" y1="0" x2="0" y2="1"><stop offset="0" stop-color="#b22222"/><stop offset="0.0833" stop-color="#c1473c"/><stop offset="0.1667" stop-color="#d8786a"/><stop offset="0.25" stop-color="#eaa79c"/><stop offset="0.3333" stop-color="#f8d6d0"/><stop offset="0.4083" stop-color="#ffffff"/><stop offset="0.5" stop-color="#e8ecfc"/><stop offset="0.5833" stop-color="#d3dcfa"/><stop offset="0.6667" stop-color="#bdccf7"/><stop offset="0.75" stop-color="#a7bcf5"/><stop offset="0.8333" stop-color="#8facf2"/><stop offset="0.9167" stop-color="#759def"/><stop offset="1" stop-color="#6495ed"/></linearGradient></defs>
<rect x="648" y="233" width="12" height="72" fill="url(#lg)" shape-rendering="auto"/>
<line x1="648" y1="235.5" x2="651" y2="235.5" stroke="#fff" stroke-width="1" shape-rendering="auto"/>
<line x1="657" y1="235.5" x2="660" y2="235.5" stroke="#fff" stroke-width="1" shape-rendering="auto"/>
<text x="662" y="239.3" font-family="Liberation Sans" font-size="10" fill="#1a1a1a">10</text>
<line x1="648" y1="248.9" x2="651" y2="248.9" stroke="#fff" stroke-width="1" shape-rendering="auto"/>
<line x1="657" y1="248.9" x2="660" y2="248.9" stroke="#fff" stroke-width="1" shape-rendering="auto"/>
<text x="662" y="252.70000000000002" font-family="Liberation Sans" font-size="10" fill="#1a1a1a">5</text>
<line x1="648" y1="262.2" x2="651" y2="262.2" stroke="#fff" stroke-width="1" shape-rendering="auto"/>
<line x1="657" y1="262.2" x2="660" y2="262.2" stroke="#fff" stroke-width="1" shape-rendering="auto"/>
<text x="662" y="266.0" font-family="Liberation Sans" font-size="10" fill="#1a1a1a">0</text>
<line x1="648" y1="275.6" x2="651" y2="275.6" stroke="#fff" stroke-width="1" shape-rendering="auto"/>
<line x1="657" y1="275.6" x2="660" y2="275.6" stroke="#fff" stroke-width="1" shape-rendering="auto"/>
<text x="662" y="279.40000000000003" font-family="Liberation Sans" font-size="10" fill="#1a1a1a">-5</text>
<line x1="648" y1="289" x2="651" y2="289" stroke="#fff" stroke-width="1" shape-rendering="auto"/>
<line x1="657" y1="289" x2="660" y2="289" stroke="#fff" stroke-width="1" shape-rendering="auto"/>
<text x="662" y="292.8" font-family="Liberation Sans" font-size="10" fill="#1a1a1a">-10</text>
<line x1="648" y1="302.4" x2="651" y2="302.4" stroke="#fff" stroke-width="1" shape-rendering="auto"/>
<line x1="657" y1="302.4" x2="660" y2="302.4" stroke="#fff" stroke-width="1" shape-rendering="auto"/>
<text x="662" y="306.2" font-family="Liberation Sans" font-size="10" fill="#1a1a1a">-15</text>
<text x="648.6" y="227.3" font-family="Liberation Sans" font-weight="bold" font-size="9.8" fill="#111">Log2FC</text>
</svg></body></html>
